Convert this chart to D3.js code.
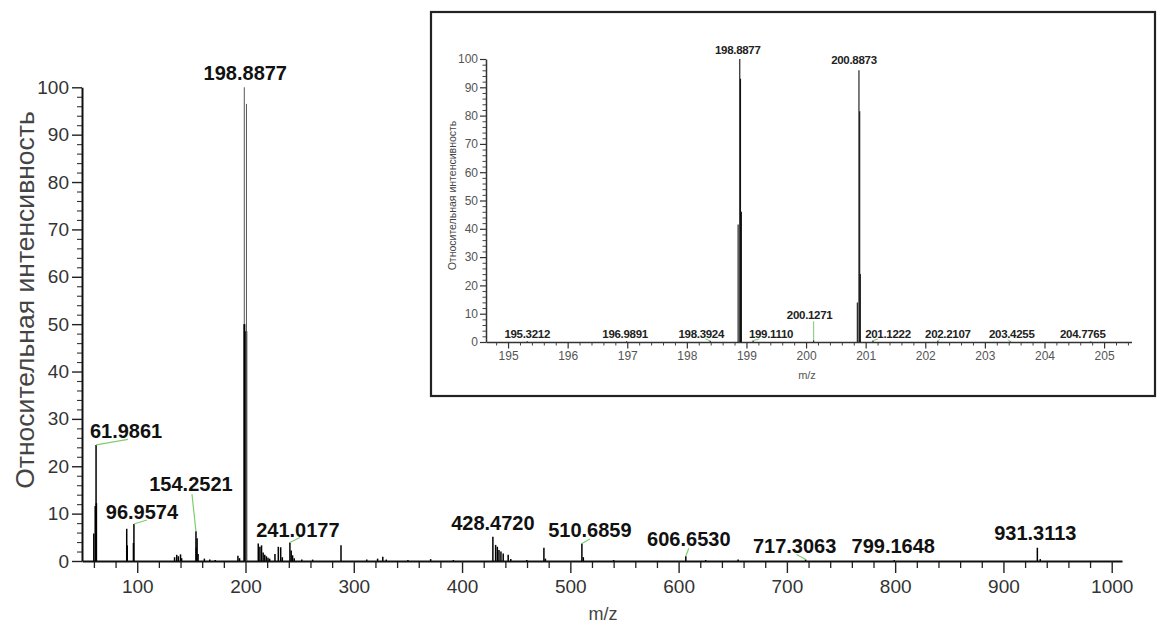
<!DOCTYPE html>
<html>
<head>
<meta charset="utf-8">
<script src="https://cdn.jsdelivr.net/npm/d3@7"></script>
<style>
  html, body { margin: 0; padding: 0; background: #fff; }
  svg { display: block; font-family: "Liberation Sans", Arial, Helvetica, sans-serif; }
</style>
</head>
<body>
<svg id="chart" width="1159" height="624"></svg>
<script>
// ---------- Full-range mass spectrum (centroid m/z, relative intensity %) ----------
const mainMz = [
  59.9, 61.2, 61.9861, 62.3,
  90.3, 90.8, 96.5, 96.9574,
  134.5, 136.5, 138.0, 140.0, 141.0,
  154.2521, 154.6, 155.3, 156.2, 162.0, 167.0, 172.0,
  193.0, 194.5,
  198.8877, 198.95, 200.7, 200.8873,
  211.8, 213.3, 214.8, 216.3, 217.8, 219.3, 220.8, 222.3,
  227.2, 230.3, 232.5, 234.0,
  241.0177, 242.2, 243.5, 245.0, 252.0, 262.0,
  288.2, 312.0, 322.0, 326.8, 330.0, 350.0, 371.0, 392.0,
  428.4720, 431.0, 432.6, 434.1, 435.9, 438.0, 442.6, 445.0,
  459.8, 475.6, 477.0,
  510.6859, 512.0, 540.0,
  606.6530, 625.0, 655.0,
  717.3063, 799.1648, 931.3113, 934.0
];
const mainIntensity = [
  5.8, 11.6, 24.5, 12.2,
  6.8, 3.3, 3.8, 7.8,
  0.8, 1.3, 1.0, 1.4, 0.6,
  6.3, 2.8, 4.8, 1.5, 0.5, 0.3, 0.2,
  1.1, 0.6,
  100, 50, 48.5, 96.5,
  3.7, 3.0, 3.3, 1.8, 1.3, 1.0, 0.7, 0.5,
  1.5, 3.0, 2.9, 0.8,
  3.9, 2.2, 1.2, 0.6, 0.3, 0.3,
  3.3, 0.3, 0.5, 0.9, 0.3, 0.2, 0.4, 0.2,
  5.1, 3.4, 3.0, 2.3, 2.0, 1.6, 1.3, 0.4,
  0.2, 2.8, 0.5,
  3.7, 0.8, 0.2,
  1.0, 0.2, 0.3,
  0.3, 0.2, 2.8, 0.4
];
// Annotated peaks of the full spectrum
const mainLabelMz = [61.9861, 96.9574, 154.2521, 198.8877, 241.0177, 428.4720,
                     510.6859, 606.6530, 717.3063, 799.1648, 931.3113];
const mainXMajorTicks = [100, 200, 300, 400, 500, 600, 700, 800, 900, 1000];
const mainYMajorTicks = [0, 10, 20, 30, 40, 50, 60, 70, 80, 90, 100];

// ---------- Zoomed region 195–205 ----------
const insetMz = [195.3212, 196.9891, 198.3924, 198.86, 198.8877, 198.90, 198.915,
                 199.1110, 200.1271, 200.86, 200.8873, 200.90, 200.91,
                 201.1222, 202.2107, 203.4255, 204.7765];
const insetIntensity = [0.3, 0.3, 0.4, 41.5, 100, 93, 46,
                        0.5, 0.6, 14, 96, 81.5, 24,
                        0.5, 0.4, 0.3, 0.2];
const insetLabelMz = [195.3212, 196.9891, 198.3924, 198.8877, 199.1110, 200.1271,
                      200.8873, 201.1222, 202.2107, 203.4255, 204.7765];
const insetXMajorTicks = [195, 196, 197, 198, 199, 200, 201, 202, 203, 204, 205];
const insetYMajorTicks = [0, 10, 20, 30, 40, 50, 60, 70, 80, 90, 100];

const yTitle = "Относительная интенсивность";
const xTitle = "m/z";

// ---------- layout of annotation text relative to each peak top ----------
// [dx, dy] moves the label centre/baseline; lead = end point of the green leader (relative to label anchor)
const mainLabelLayout = [
  { dx: 30, dy: -7, lead: [2, 1.5] },
  { dx: 8, dy: -5, lead: [5, 1] },
  { dx: -5, dy: -40, lead: [1, 3] },
  { dx: 1, dy: -7, lead: null },
  { dx: 8, dy: -6, lead: [2, 1] },
  { dx: 0, dy: -7, lead: null },
  { dx: 8, dy: -6, lead: [0, 1.5] },
  { dx: 3, dy: -10, lead: [0, 2] },
  { dx: -11, dy: -7, lead: [2, 2] },
  { dx: -1, dy: -7, lead: null },
  { dx: -2, dy: -8, lead: null }
];
const insetLabelLayout = [
  { dx: 0, dy: -3, lead: null },
  { dx: -1.5, dy: -3, lead: null },
  { dx: -9, dy: -3, lead: [4, 1] },
  { dx: -2, dy: -5, lead: null },
  { dx: 18, dy: -3, lead: [-12, 1.5] },
  { dx: -4, dy: -21, lead: [4, 2] },
  { dx: -5, dy: -6, lead: null },
  { dx: 15, dy: -3, lead: [-10, 1.5] },
  { dx: 10, dy: -3, lead: [-8, 1.5] },
  { dx: 1.5, dy: -3, lead: [-4, 1.5] },
  { dx: -8, dy: -3, lead: null }
];

const svg = d3.select("#chart");
const leaderColor = "#7ccf6e";

function intensityOf(mzArr, intArr, m) {
  return intArr[mzArr.indexOf(m)];
}
function range(a, b, step) {
  const out = [];
  for (let v = a; v <= b + 1e-9; v += step) out.push(+v.toFixed(4));
  return out;
}

// ================= MAIN SPECTRUM =================
const x = d3.scaleLinear().domain([49, 1009.5]).range([82, 1122]);
const y = d3.scaleLinear().domain([0, 100]).range([561, 87.3]);

const main = svg.append("g");

// minor ticks
main.append("g")
  .attr("transform", `translate(0,${y(0)})`)
  .call(d3.axisBottom(x).tickValues(range(60, 1000, 20).filter(v => v % 100 !== 0))
        .tickSize(7).tickSizeOuter(0).tickFormat(""))
  .call(g => g.select(".domain").remove())
  .call(g => g.selectAll("line").attr("stroke", "#222").attr("stroke-width", 1.3));
main.append("g")
  .attr("transform", `translate(${x.range()[0]},0)`)
  .call(d3.axisLeft(y).tickValues(range(0, 100, 2).filter(v => v % 10 !== 0))
        .tickSize(5).tickSizeOuter(0).tickFormat(""))
  .call(g => g.select(".domain").remove())
  .call(g => g.selectAll("line").attr("stroke", "#333").attr("stroke-width", 1.1));

// major axes
const mxAxis = main.append("g")
  .attr("transform", `translate(0,${y(0)})`)
  .call(d3.axisBottom(x).tickValues(mainXMajorTicks).tickFormat(d3.format("d"))
        .tickSize(12).tickSizeOuter(0).tickPadding(7));
const myAxis = main.append("g")
  .attr("transform", `translate(${x.range()[0]},0)`)
  .call(d3.axisLeft(y).tickValues(mainYMajorTicks).tickFormat(d3.format("d"))
        .tickSize(10).tickSizeOuter(0).tickPadding(3));
[mxAxis, myAxis].forEach(g => {
  g.select(".domain").attr("stroke", "#111").attr("stroke-width", 2);
  g.selectAll(".tick line").attr("stroke", "#222").attr("stroke-width", 1.4);
  g.selectAll(".tick text").attr("fill", "#333").attr("font-size", 19)
    .attr("font-family", "'Liberation Sans', Arial, sans-serif");
});

// spectrum lines
const mainPeaks = mainMz.map((m, i) => ({ m, v: mainIntensity[i] }));
main.append("g").selectAll("line").data(mainPeaks).join("line")
  .attr("x1", d => x(d.m)).attr("x2", d => x(d.m))
  .attr("y1", y(0)).attr("y2", d => y(d.v))
  .attr("stroke", d => d.v > 55 ? "#555" : "#000")
  .attr("stroke-width", d => d.v > 55 ? 1 : (d.v > 40 ? 2 : 1.5));

// annotations
mainLabelMz.forEach((m, i) => {
  const v = intensityOf(mainMz, mainIntensity, m);
  const L = mainLabelLayout[i];
  const px = x(m), py = y(v);
  const lx = px + L.dx, ly = py + L.dy;
  if (L.lead) {
    main.append("line")
      .attr("x1", px).attr("y1", py)
      .attr("x2", lx + L.lead[0]).attr("y2", ly + L.lead[1])
      .attr("stroke", leaderColor).attr("stroke-width", 1.2);
  }
  main.append("text")
    .attr("x", lx).attr("y", ly)
    .attr("text-anchor", "middle")
    .attr("font-size", 20).attr("font-weight", "bold").attr("fill", "#111")
    .text(m.toFixed(4));
});

// axis titles
main.append("text")
  .attr("transform", "translate(34,300) rotate(-90)")
  .attr("text-anchor", "middle").attr("font-size", 26.5).attr("fill", "#444")
  .text(yTitle);
main.append("text")
  .attr("x", 603).attr("y", 620)
  .attr("text-anchor", "middle").attr("font-size", 18).attr("fill", "#444")
  .text(xTitle);

// ================= INSET =================
const inset = svg.append("g");
inset.append("rect")
  .attr("x", 431).attr("y", 12).attr("width", 724).attr("height", 384)
  .attr("fill", "#fff").attr("stroke", "#222").attr("stroke-width", 2.2);

const ix = d3.scaleLinear().domain([194.63, 205.46]).range([486, 1131.5]);
const iy = d3.scaleLinear().domain([0, 100]).range([342, 59]);

inset.append("g")
  .attr("transform", `translate(0,${iy(0)})`)
  .call(d3.axisBottom(ix).tickValues(range(194.8, 205.4, 0.2).filter(v => Math.abs(v - Math.round(v)) > 1e-6))
        .tickSize(3.5).tickSizeOuter(0).tickFormat(""))
  .call(g => g.select(".domain").remove())
  .call(g => g.selectAll("line").attr("stroke", "#444").attr("stroke-width", 1));
inset.append("g")
  .attr("transform", `translate(${ix.range()[0]},0)`)
  .call(d3.axisLeft(iy).tickValues(range(0, 100, 2).filter(v => v % 10 !== 0))
        .tickSize(3.5).tickSizeOuter(0).tickFormat(""))
  .call(g => g.select(".domain").remove())
  .call(g => g.selectAll("line").attr("stroke", "#444").attr("stroke-width", 1));

const ixAxis = inset.append("g")
  .attr("transform", `translate(0,${iy(0)})`)
  .call(d3.axisBottom(ix).tickValues(insetXMajorTicks).tickFormat(d3.format("d"))
        .tickSize(6.5).tickSizeOuter(0).tickPadding(3));
const iyAxis = inset.append("g")
  .attr("transform", `translate(${ix.range()[0]},0)`)
  .call(d3.axisLeft(iy).tickValues(insetYMajorTicks).tickFormat(d3.format("d"))
        .tickSize(6).tickSizeOuter(0).tickPadding(2));
[ixAxis, iyAxis].forEach(g => {
  g.select(".domain").attr("stroke", "#333").attr("stroke-width", 1.5);
  g.selectAll(".tick line").attr("stroke", "#333").attr("stroke-width", 1.2);
  g.selectAll(".tick text").attr("fill", "#555").attr("font-size", 12)
    .attr("font-family", "'Liberation Sans', Arial, sans-serif");
});

const insetPeaks = insetMz.map((m, i) => ({ m, v: insetIntensity[i] }));
inset.append("g").selectAll("line").data(insetPeaks).join("line")
  .attr("x1", d => ix(d.m)).attr("x2", d => ix(d.m))
  .attr("y1", iy(0)).attr("y2", d => iy(d.v))
  .attr("stroke", "#111").attr("stroke-width", 1.1);

insetLabelMz.forEach((m, i) => {
  const v = intensityOf(insetMz, insetIntensity, m);
  const L = insetLabelLayout[i];
  const px = ix(m), py = iy(v);
  const lx = px + L.dx, ly = py + L.dy;
  if (L.lead) {
    inset.append("line")
      .attr("x1", px).attr("y1", py)
      .attr("x2", lx + L.lead[0]).attr("y2", ly + L.lead[1])
      .attr("stroke", leaderColor).attr("stroke-width", 1);
  }
  inset.append("text")
    .attr("x", lx).attr("y", ly)
    .attr("text-anchor", "middle")
    .attr("font-size", 11.5).attr("font-weight", "bold").attr("fill", "#222")
    .attr("letter-spacing", -0.3)
    .text(m.toFixed(4));
});

inset.append("text")
  .attr("transform", `translate(456,${(iy(0) + iy(100)) / 2 - 5}) rotate(-90)`)
  .attr("text-anchor", "middle").attr("font-size", 10.5).attr("fill", "#444")
  .text(yTitle);
inset.append("text")
  .attr("x", 807).attr("y", 379)
  .attr("text-anchor", "middle").attr("font-size", 11).attr("fill", "#555")
  .text(xTitle);
</script>
</body>
</html>
